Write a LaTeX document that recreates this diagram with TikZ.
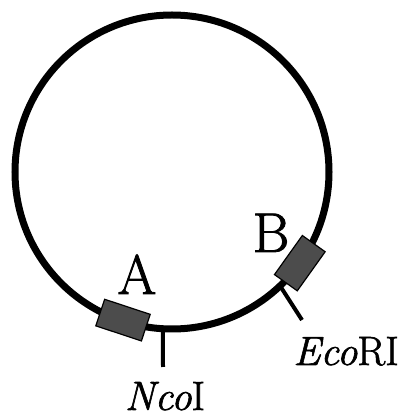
\documentclass[tikz,border=0pt]{standalone}
\usepackage{tikz}
\usepackage{fontspec}
\usetikzlibrary{calc}
\setmainfont{Latin Modern Roman}[RawFeature={embolden=1.5}]

\begin{document}
\begin{tikzpicture}[
  x=1pt, y=1pt,
  plasmid/.style={draw, line width=7pt},
  gene/.style={draw, line width=1.2pt, fill=black!70, minimum width=48pt,
               minimum height=28pt, inner sep=0pt},
  site/.style={line width=4pt},
  big/.style={inner sep=0pt, anchor=base, font=\fontsize{56}{56}\selectfont},
  enz/.style={inner sep=0pt, anchor=base, font=\fontsize{41}{41}\selectfont}
]
\useasboundingbox (0,0) rectangle (403,418);

%% ── PLASMID RING ─────────────────────────────────────────────────────────────

\coordinate (c) at (172,246);
\draw[plasmid] (c) circle (157);

%% ── RESTRICTION SITES ───────────────────────────────────────────────────────

\coordinate (nco)    at ($(c)+(266.7:157)$);
\coordinate (ncoEnd) at (163,51);
\draw[site] (nco) -- (ncoEnd);

\coordinate (eco)    at ($(c)+(313.5:157)$);
\coordinate (ecoEnd) at (302,98);
\draw[site] (eco) -- (ecoEnd);

%% ── GENES A AND B ───────────────────────────────────────────────────────────

\node[gene, rotate=-18.3] (geneA) at ($(c)+(251.7:156)$) {};
\node[gene, rotate=54.5]  (geneB) at ($(c)+(324.5:157)$) {};

%% ── LABELS ──────────────────────────────────────────────────────────────────

\node[big] (labA) at (137,124) {A};
\node[big] (labB) at (271,166) {B};
\node[enz] (labNco) at (165,8)  {\textit{Nco}I};
\node[enz] (labEco) at (346,53) {\textit{Eco}RI};

\end{tikzpicture}
\end{document}
